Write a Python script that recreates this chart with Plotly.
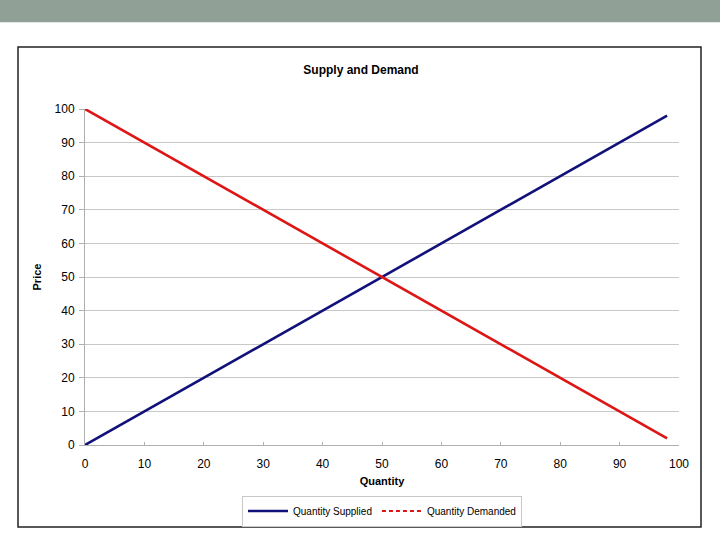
import plotly.graph_objects as go

quantity = [0, 10, 20, 30, 40, 50, 60, 70, 80, 90, 98]
supplied_price = [0, 10, 20, 30, 40, 50, 60, 70, 80, 90, 98]
demanded_price = [100, 90, 80, 70, 60, 50, 40, 30, 20, 10, 2]
x_ticks = [0, 10, 20, 30, 40, 50, 60, 70, 80, 90, 100]
y_ticks = [0, 10, 20, 30, 40, 50, 60, 70, 80, 90, 100]

NAVY = "#11117a"
RED = "#dd1515"
FONT = "Liberation Sans, Arial, sans-serif"

fig = go.Figure()
fig.add_trace(go.Scatter(x=quantity, y=supplied_price, mode="lines",
                         name="Quantity Supplied",
                         line=dict(color=NAVY, width=2.6)))
fig.add_trace(go.Scatter(x=quantity, y=demanded_price, mode="lines",
                         name="Quantity Demanded", showlegend=False,
                         line=dict(color=RED, width=2.6)))
# legend entry (Excel shows the demanded series as dashed in the legend)
fig.add_trace(go.Scatter(x=[None], y=[None], mode="lines",
                         name="Quantity Demanded",
                         line=dict(color=RED, width=2, dash="4px,3px")))

L, R, T, B = 85, 41, 109, 95
pw = 720 - L - R
ph = 540 - T - B
def px_x(p):
    return (p - L) / pw
def px_y(p):
    return (540 - B - p) / ph

fig.update_layout(
    width=720, height=540,
    paper_bgcolor="white", plot_bgcolor="white",
    margin=dict(l=L, r=R, t=T, b=B, autoexpand=False),
    font=dict(family=FONT, size=12, color="black"),
    title=dict(text="<b>Supply and Demand</b>", x=361/720, xref="container",
               xanchor="center", y=1-70/540, yref="container", yanchor="middle",
               font=dict(size=12, family=FONT, color="black")),
    showlegend=True,
    legend=dict(orientation="h", x=382/720, xref="container", xanchor="center",
                y=1-511/540, yref="container", yanchor="middle",
                bordercolor="#c8c8c8", borderwidth=1, bgcolor="white",
                font=dict(size=10, family=FONT), itemwidth=40,
                tracegroupgap=0),
    shapes=[
        dict(type="rect", xref="paper", yref="paper", x0=px_x(-5), x1=px_x(725),
             y0=px_y(22), y1=px_y(-5), fillcolor="#90a096",
             line=dict(width=0), layer="below"),
        dict(type="line", xref="paper", yref="paper", x0=px_x(0), x1=px_x(720),
             y0=px_y(22.5), y1=px_y(22.5), line=dict(color="#dfe8e2", width=1)),
        dict(type="rect", xref="paper", yref="paper", x0=px_x(18), x1=px_x(701),
             y0=px_y(527), y1=px_y(47), line=dict(color="#222222", width=1.5),
             fillcolor="rgba(0,0,0,0)", layer="below"),
    ],
)

fig.update_xaxes(range=[0, 100], tickvals=x_ticks, showgrid=False,
                 zeroline=False, showline=True, linecolor="#b0b0b0", linewidth=1,
                 ticks="inside", ticklen=3, tickcolor="#b0b0b0",
                 ticklabelstandoff=8,
                 tickfont=dict(size=12, family=FONT),
                 title=dict(text="<b>Quantity</b>", font=dict(size=11, family=FONT),
                            standoff=6))
fig.update_yaxes(range=[0, 100], tickvals=y_ticks, showgrid=True,
                 gridcolor="#c8c8c8", gridwidth=1, zeroline=False,
                 showline=True, linecolor="#b0b0b0", linewidth=1,
                 ticks="outside", ticklen=5, tickcolor="#b0b0b0",
                 ticklabelstandoff=2,
                 tickfont=dict(size=12, family=FONT),
                 title=dict(text="<b>Price</b>", font=dict(size=11, family=FONT),
                            standoff=10))

fig.write_html("out.html", config={"displayModeBar": False},
               post_script="document.body.style.margin='0';")
